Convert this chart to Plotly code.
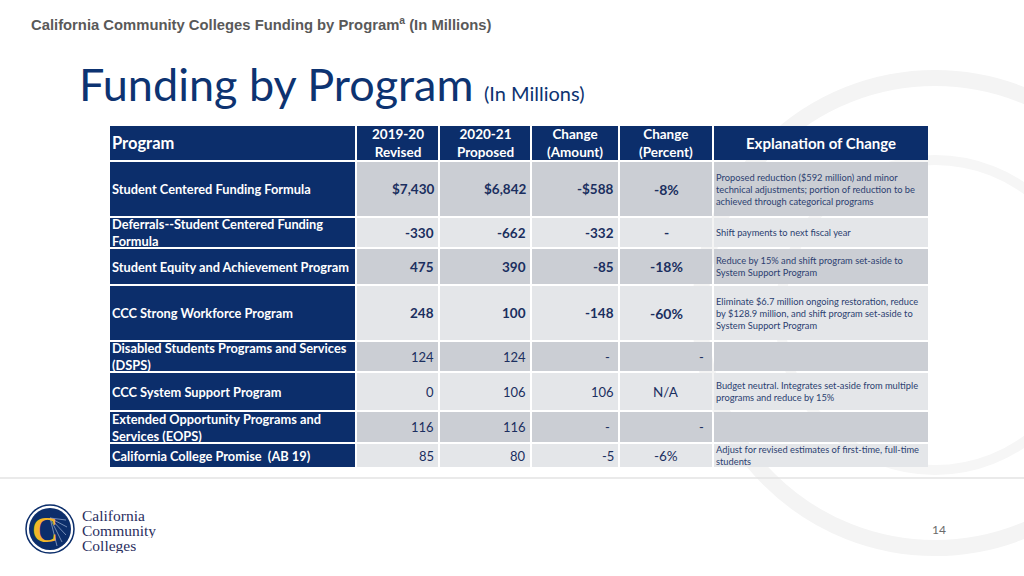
import plotly.graph_objects as go

# ---------------- data ----------------
programs = [
    "Student Centered Funding Formula",
    "Deferrals--Student Centered Funding<br>Formula",
    "Student Equity and Achievement Program",
    "CCC Strong Workforce Program",
    "Disabled Students Programs and Services<br>(DSPS)",
    "CCC System Support Program",
    "Extended Opportunity Programs and<br>Services (EOPS)",
    "California College Promise  (AB 19)",
]
revised_2019_20 = [7430, -330, 475, 248, 124, 0, 116, 85]
proposed_2020_21 = [6842, -662, 390, 100, 124, 106, 116, 80]
change_amount = [-588, -332, -85, -148, None, 106, None, -5]
change_percent = [-8, None, -18, -60, None, "N/A", None, -6]
explanations = [
    "Proposed reduction ($592 million) and minor<br>technical adjustments; portion of reduction to be<br>achieved through categorical programs",
    "Shift payments to next fiscal year",
    "Reduce by 15% and shift program set-aside to<br>System Support Program",
    "Eliminate $6.7 million ongoing restoration, reduce<br>by $128.9 million, and shift program set-aside to<br>System Support Program",
    "",
    "Budget neutral. Integrates set-aside from multiple<br>programs and reduce by 15%",
    "",
    "Adjust for revised estimates of first-time, full-time<br>students",
]
headers = ["Program", "2019-20<br>Revised", "2020-21<br>Proposed",
           "Change<br>(Amount)", "Change<br>(Percent)", "Explanation of Change"]
dollar_rows = [True, False, False, False, False, False, False, False]
bold_rows = [True, True, True, True, False, False, False, False]

# ---------------- layout / style ----------------
W, H = 1024, 576
NAVY = "#0c2e6b"
TXT = "#1b2f5f"
EXPL = "#2b3f70"
DARK = "#cbced4"
LIGHT = "#e4e6e9"
FONT = "Lato"
COL_EDGES = [110, 357, 440, 532, 620, 714, 930]
ROW_H = [36, 56, 31, 37, 56, 31, 39, 32, 25]
TOP = 126
GAP = 2


def fmt_num(v, dollar):
    if v is None:
        return "-"
    s = f"{abs(v):,}"
    if dollar:
        s = "$" + s
    return ("-" + s) if v < 0 else s


def fmt_pct(v):
    if v is None:
        return "-"
    if isinstance(v, str):
        return v
    return f"{v}%"


row_tops = []
y = TOP
for h in ROW_H:
    row_tops.append(y)
    y += h

shapes = []
annotations = []

# faint watermark arcs on the right
shapes.append(dict(type="circle", xref="x", yref="y", x0=700, x1=1170, y0=78, y1=548,
                   line=dict(color="#f4f4f4", width=16), layer="below"))
shapes.append(dict(type="circle", xref="x", yref="y", x0=780, x1=1090, y0=160, y1=470,
                   line=dict(color="#f6f6f6", width=10), layer="below"))

# table cells
for r in range(len(ROW_H)):
    y0 = row_tops[r]
    y1 = y0 + ROW_H[r] - GAP
    for c in range(len(COL_EDGES) - 1):
        x0 = COL_EDGES[c]
        x1 = COL_EDGES[c + 1] - GAP
        if r == 0 or c == 0:
            fill = NAVY
        else:
            fill = DARK if (r % 2 == 1) else LIGHT
        shapes.append(dict(type="rect", xref="x", yref="y", x0=x0, x1=x1, y0=y0, y1=y1,
                           fillcolor=fill, line=dict(width=0), layer="below"))


def cell_box(r, c):
    y0 = row_tops[r]
    y1 = y0 + ROW_H[r] - GAP
    x0 = COL_EDGES[c]
    x1 = COL_EDGES[c + 1] - GAP
    return x0, x1, y0, y1


# header texts
for c, htxt in enumerate(headers):
    x0, x1, y0, y1 = cell_box(0, c)
    ym = (y0 + y1) / 2
    if c == 0:
        annotations.append(dict(x=x0, y=ym, text=f"<b>{htxt}</b>", xanchor="left",
                                yanchor="middle", showarrow=False,
                                font=dict(family=FONT, size=16.5, color="white")))
    else:
        annotations.append(dict(x=(x0 + x1) / 2, y=ym, text=f"<b>{htxt}</b>", xanchor="center",
                                yanchor="middle", showarrow=False, align="center",
                                font=dict(family=FONT, size=15 if c == 5 else 13.5, color="white")))

# body
for i in range(len(programs)):
    r = i + 1
    bold = bold_rows[i]

    def b(t):
        return f"<b>{t}</b>" if bold else t

    # program
    x0, x1, y0, y1 = cell_box(r, 0)
    ym = (y0 + y1) / 2
    annotations.append(dict(x=x0, y=ym, text=f"<b>{programs[i]}</b>", xanchor="left",
                            yanchor="middle", showarrow=False, align="left",
                            font=dict(family=FONT, size=12.8, color="white")))
    vsize = 13.5 if bold else 13
    # revised / proposed / change amount
    for c, series in ((1, revised_2019_20), (2, proposed_2020_21), (3, change_amount)):
        x0, x1, y0, y1 = cell_box(r, c)
        txt = fmt_num(series[i], dollar_rows[i])
        pad = 2 if series[i] is not None else 6
        annotations.append(dict(x=x1 - pad, y=ym, text=b(txt), xanchor="right",
                                yanchor="middle", showarrow=False,
                                font=dict(family=FONT, size=vsize, color=TXT)))
    # percent
    x0, x1, y0, y1 = cell_box(r, 4)
    ptxt = fmt_pct(change_percent[i])
    if change_percent[i] is None and not bold:
        annotations.append(dict(x=x1 - 6, y=ym, text=ptxt, xanchor="right", yanchor="middle",
                                showarrow=False, font=dict(family=FONT, size=vsize, color=TXT)))
    else:
        annotations.append(dict(x=(x0 + x1) / 2, y=ym, text=b(ptxt), xanchor="center",
                                yanchor="middle", showarrow=False,
                                font=dict(family=FONT, size=14 if bold else 13.5, color=TXT)))
    # explanation
    x0, x1, y0, y1 = cell_box(r, 5)
    if explanations[i]:
        annotations.append(dict(x=x0, y=ym, text=explanations[i], xanchor="left",
                                yanchor="middle", showarrow=False, align="left",
                                font=dict(family=FONT, size=9.3, color=EXPL)))

# top header line
annotations.append(dict(x=29, y=24, text="<b>California Community Colleges Funding by Program<sup>a</sup> (In Millions)</b>",
                        xanchor="left", yanchor="middle", showarrow=False,
                        font=dict(family="Liberation Sans", size=14.8, color="#595959")))
# title
annotations.append(dict(x=77, y=84, text="Funding by Program", xanchor="left", yanchor="middle",
                        showarrow=False, font=dict(family=FONT, size=45, color="#0d3371")))
annotations.append(dict(x=482, y=93, text="(In Millions)", xanchor="left", yanchor="middle",
                        showarrow=False, font=dict(family=FONT, size=20, color="#0d3371")))

# footer separator
shapes.append(dict(type="line", xref="x", yref="y", x0=0, x1=W, y0=478, y1=478,
                   line=dict(color="#e3e3e3", width=1.5)))

# logo
shapes.append(dict(type="circle", xref="x", yref="y", x0=26, x1=74, y0=505, y1=553,
                   fillcolor="white", line=dict(color=NAVY, width=1.5)))
shapes.append(dict(type="circle", xref="x", yref="y", x0=29, x1=71, y0=508, y1=550,
                   fillcolor=NAVY, line=dict(width=0)))
for (xa, ya) in [(66, 520), (67, 527), (66, 535), (62, 542), (57, 546)]:
    shapes.append(dict(type="line", xref="x", yref="y", x0=50, x1=xa, y0=518, y1=ya,
                       line=dict(color="#8ea3c8", width=0.8)))
annotations.append(dict(x=45, y=530, text="<b>C</b>", xanchor="center", yanchor="middle",
                        showarrow=False, font=dict(family="Liberation Serif", size=36, color="#f2b62a")))
for k, word in enumerate(["California", "Community", "Colleges"]):
    annotations.append(dict(x=80, y=515 + 15 * k, text=word, xanchor="left", yanchor="middle",
                            showarrow=False, height=15,
                            font=dict(family="Liberation Serif", size=15.5, color="#2a2e5e")))

# page number
annotations.append(dict(x=939, y=529, text="14", xanchor="center", yanchor="middle",
                        showarrow=False, font=dict(family=FONT, size=12, color="#6b6b6b")))

fig = go.Figure()
fig.update_layout(
    width=W, height=H, margin=dict(l=0, r=0, t=0, b=0),
    paper_bgcolor="white", plot_bgcolor="white",
    xaxis=dict(range=[0, W], visible=False, fixedrange=True),
    yaxis=dict(range=[H, 0], visible=False, fixedrange=True),
    shapes=shapes, annotations=annotations, showlegend=False,
)
fig.write_html("out.html", config={"displayModeBar": False},
               post_script="document.body.style.margin='0';document.body.style.overflow='hidden';")
